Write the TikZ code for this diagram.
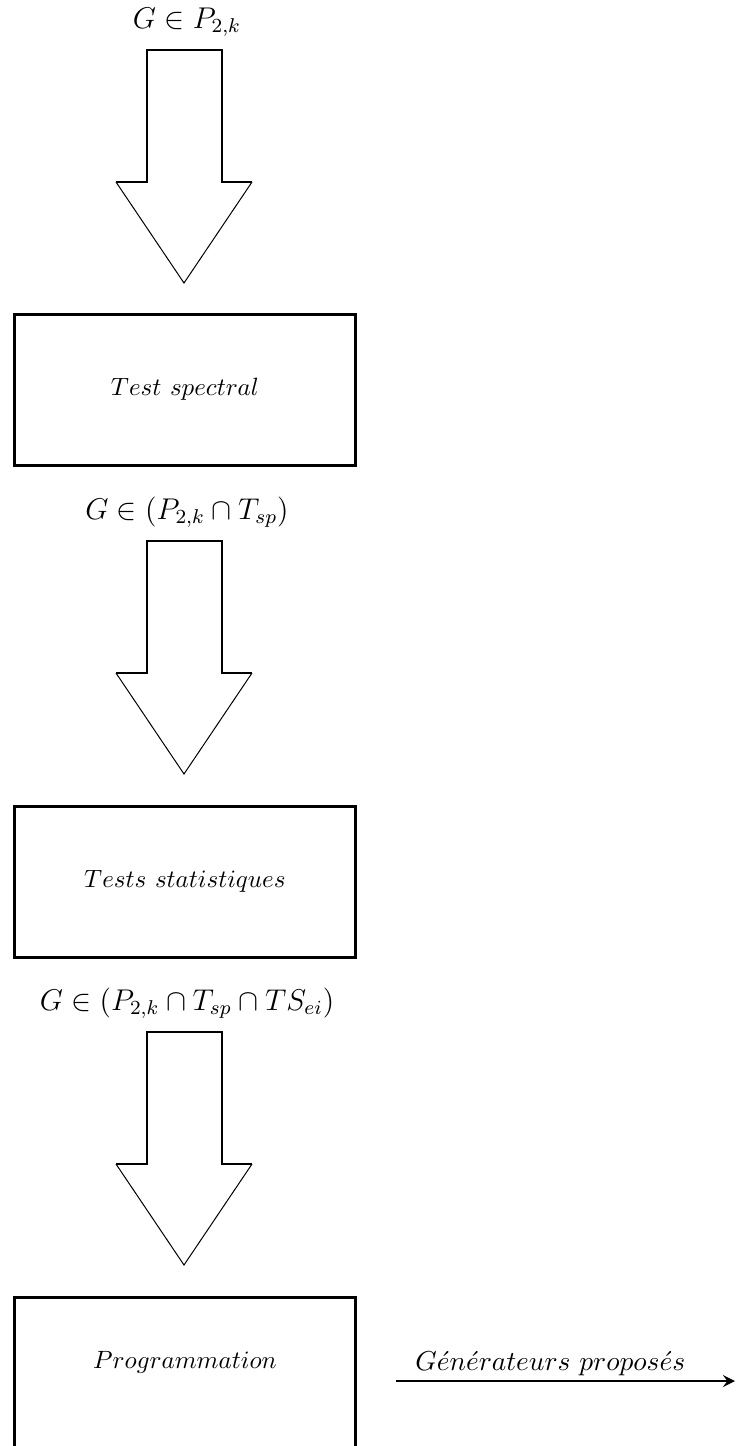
\documentclass[tikz,border=0pt]{standalone}
\usepackage{amsmath, amssymb}
\usepackage{tikz}
\usetikzlibrary{arrows, positioning}

\tikzset{
  etape/.style={draw, line width=1.2pt, minimum width=136pt, minimum height=60.4pt, inner sep=0pt, font=\fontsize{10.4}{12}\selectfont},
  ensemble/.style={font=\fontsize{11.5}{14}\selectfont},
  grosse/.style={line width=0.8pt},
  pointe/.style={line width=0.4pt},
}

\begin{document}
\begin{tikzpicture}[x=0.4pt, y=-0.4pt, >=stealth]
  \useasboundingbox (0,0) rectangle (735,1446);

  % ensembles
  \node[ensemble] (ens1) at (187,22) {$G\in P_{2,k}$};
  \node[ensemble] (ens2) at (187,512) {$G\in (P_{2,k}\cap T_{sp})$};
  \node[ensemble] (ens3) at (187,1003) {$G\in (P_{2,k}\cap T_{sp}\cap TS_{ei})$};

  % tests
  \node[etape] (spec) at (185,389.5) {$Test\ spectral$};
  \node[etape] (stat) at (185,881.5) {$Tests\ statistiques$};
  \node[etape] (prog) at (185,1372.5) {};
  \node[font=\fontsize{10.4}{12}\selectfont] (progtxt) at (185,1362) {$Programmation$};

  % grosses fleches
  \foreach \h in {50,541,1032}{
    \draw[grosse] (116,\h+132) -- (147,\h+132) -- (147,\h) -- (222,\h) -- (222,\h+132) -- (252,\h+132);
    \draw[pointe] (116,\h+132) -- (184,\h+233) -- (252,\h+132);
  }

  % sortie
  \coordinate (depart) at (396,1381);
  \coordinate (sortie) at (735,1381);
  \draw[->, line width=1.1pt] (depart) -- node[above=0pt, inner sep=1.5pt, pos=0.455, font=\fontsize{11}{13}\selectfont] {$G\acute{e}n\acute{e}rateurs\ propos\acute{e}s$} (sortie);
\end{tikzpicture}
\end{document}
